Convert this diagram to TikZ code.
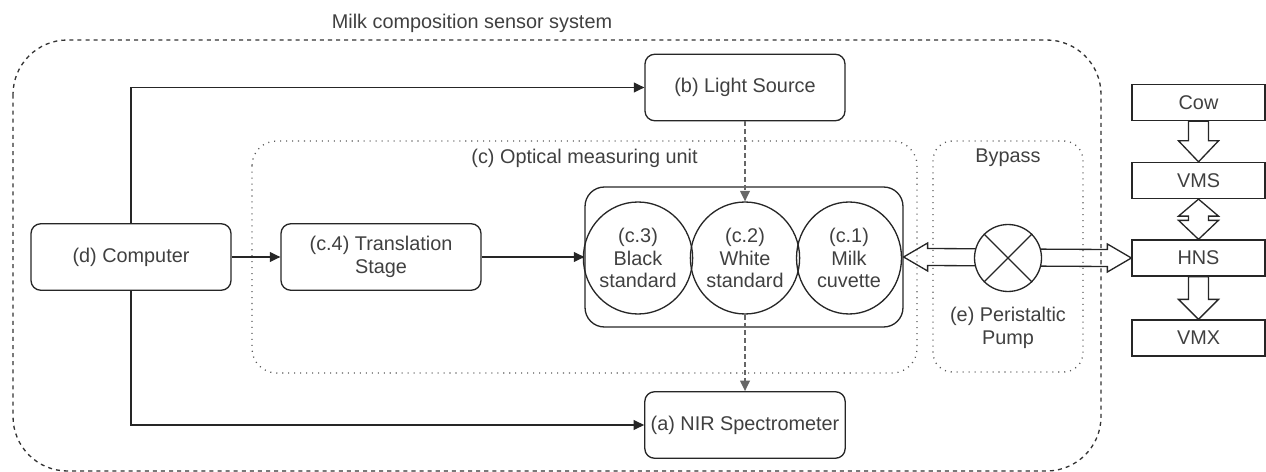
\documentclass[tikz,border=0pt]{standalone}
\usepackage{fontspec}
\setmainfont{Liberation Sans}
\usetikzlibrary{arrows.meta,calc,shapes.geometric}

\begin{document}
\begin{tikzpicture}[
    x=0.02cm, y=-0.02cm,
    every node/.style={font=\fontsize{11.3}{13}\selectfont, text=black!75},
    unit/.style={draw=black!85, line width=0.75pt, rounded corners=5.5pt,
        minimum width=4cm, minimum height=1.33cm, align=center},
    disc/.style={draw=black!85, line width=0.75pt, ellipse, inner sep=0pt,
        minimum width=2.1cm, minimum height=2.24cm, align=center},
    farm/.style={draw=black!85, line width=0.75pt, minimum width=2.66cm, minimum height=0.72cm},
    link/.style={draw=black!85, line width=0.75pt, -{Triangle[length=6pt,width=5.6pt]}},
    beam/.style={link, draw=black!60, dash pattern=on 2.8pt off 1.7pt},
    flow/.style={draw=black!85, line width=0.75pt, line join=miter},
    group/.style={draw=black!65, line width=0.75pt, dash pattern=on 0.6pt off 2.8pt}
]
\useasboundingbox (0,0) rectangle (1266,472);

% sensor system
\draw[black!80, line width=0.75pt, dash pattern=on 2.3pt off 2.3pt, rounded corners=31pt]
    (13,40) rectangle (1101,471);
\node (title) at (472,23) {Milk composition sensor system};

% (c)
\draw[group, rounded corners=14pt] (252,141) rectangle (917,373);
\node (optlabel) at (584.5,158) {(c) Optical measuring unit};
\node[unit] (stage) at (381,257) {(c.4) Translation\\Stage};
\node[draw=black!85, line width=0.75pt, rounded corners=11pt,
    minimum width=6.36cm, minimum height=2.8cm] (holder) at (744,257) {};
\node[disc] (c3) at (638,258) {(c.3)\\Black\\standard};
\node[disc] (c2) at (745,258) {(c.2)\\White\\standard};
\node[disc] (c1) at (849,258) {(c.1)\\Milk\\cuvette};

% (e)
\draw[group, rounded corners=11pt] (933,141) rectangle (1083,372);
\node (bypass) at (1008,158) {Bypass};
\node[align=center] (pumplabel) at (1008,327.5) {(e) Peristaltic\\Pump};

% (a), (b), (d)
\node[unit] (light) at (745,87.5) {(b) Light Source};
\node[unit] (nir) at (745,425) {(a) NIR Spectrometer};
\node[unit] (comp) at (131,257) {(d) Computer};

% farm
\node[farm] (cow) at (1198.5,102.5) {Cow};
\node[farm] (vms) at (1198.5,180.5) {VMS};
\node[farm] (hns) at (1198.5,258) {HNS};
\node[farm] (vmx) at (1198.5,338) {VMX};

\draw[link] (comp.north) |- (light.west);
\draw[link] (comp.south) |- (nir.west);
\draw[link] (comp.east) -- (stage.west);
\draw[link] (stage.east) -- (holder.west);
\draw[beam] (light.south) -- (c2.north);
\draw[beam] (c2.south) -- (nir.north);

% milk flow
\draw[flow] (holder.east) -- ++(24,-14) -- ++(0,5.5) -- ($(hns.west)+(-24,-8.5)$)
    -- ++(0,-5.5) -- (hns.west) -- ++(-24,14) -- ++(0,-5.5)
    -- ($(holder.east)+(24,8.5)$) -- ++(0,5.5) -- cycle;
\node[draw=black!85, line width=0.75pt, circle, fill=white, inner sep=0pt,
    minimum size=1.34cm] (pump) at (1008,258) {};
\draw[flow] (pump.45) -- (pump.225) (pump.135) -- (pump.315);

\draw[flow, fill=white] ($(cow.south)+(-10,0)$) -- ($(vms.north)+(-10,-21)$) -- ++(-10,0)
    -- (vms.north) -- ++(20,-21) -- ++(-10,0) -- ($(cow.south)+(10,0)$) -- cycle;
\draw[flow, fill=white] (vms.south) -- ++(20,17) -- ++(-10,0) -- ($(hns.north)+(10,-19)$)
    -- ++(10,0) -- (hns.north) -- ++(-20,-19) -- ++(10,0)
    -- ($(vms.south)+(-10,17)$) -- ++(-10,0) -- cycle;
\draw[flow, fill=white] ($(hns.south)+(-10,0)$) -- ($(vmx.north)+(-10,-20)$) -- ++(-10,0)
    -- (vmx.north) -- ++(20,-20) -- ++(-10,0) -- ($(hns.south)+(10,0)$) -- cycle;

\end{tikzpicture}
\end{document}
